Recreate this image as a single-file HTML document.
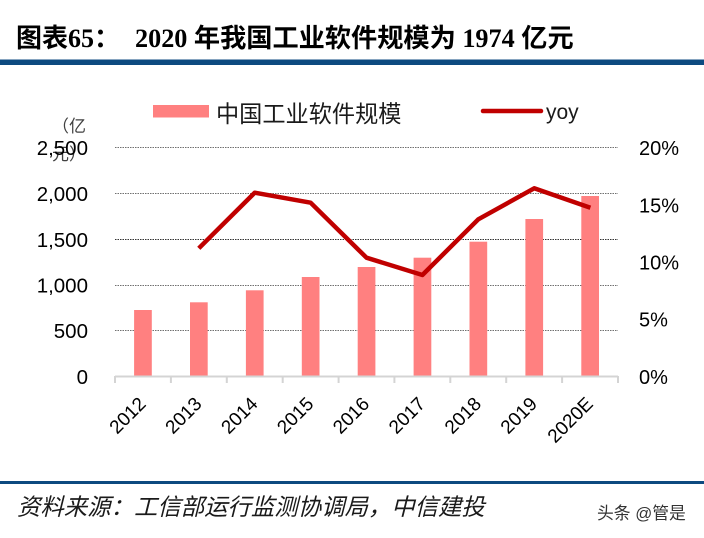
<!DOCTYPE html>
<html><head><meta charset="utf-8"><style>
html,body{margin:0;padding:0;background:#fff;}
svg{display:block;}
</style></head><body>
<svg width="704" height="538" viewBox="0 0 704 538" xmlns="http://www.w3.org/2000/svg">
<rect width="704" height="538" fill="#fff"/>
<!-- Title -->
<text x="16" y="47" font-family="'Liberation Serif','Noto Sans CJK SC',serif" font-weight="bold" font-size="26" fill="#000">图表65：</text>
<text x="135" y="47" font-family="'Liberation Serif','Noto Sans CJK SC',serif" font-weight="bold" font-size="26.2" fill="#000">2020 年我国工业软件规模为 1974 亿元</text>
<rect x="0" y="59.5" width="704" height="5.5" fill="#0d4a80"/>

<!-- Legend -->
<rect x="153" y="105" width="56" height="12.5" fill="#ff8080"/>
<text x="216" y="122" font-family="'Liberation Sans','Noto Sans CJK SC',sans-serif" font-size="23.2" fill="#1a1a1a">中国工业软件规模</text>
<line x1="483" y1="111" x2="541" y2="111" stroke="#c00000" stroke-width="4.5" stroke-linecap="round"/>
<text x="546" y="119" font-family="'Liberation Sans',sans-serif" font-size="21" fill="#1a1a1a">yoy</text>

<!-- unit label -->
<text x="52" y="132" font-family="'Liberation Sans','Noto Sans CJK SC',sans-serif" font-size="17" fill="#404040">（亿</text>
<text x="52" y="160" font-family="'Liberation Sans','Noto Sans CJK SC',sans-serif" font-size="17" fill="#404040">元）</text>

<!-- Gridlines -->
<g stroke="#707070" stroke-width="1" stroke-dasharray="1.5 1">
<line x1="115" y1="147.5" x2="618" y2="147.5"/>
<line x1="115" y1="193.5" x2="618" y2="193.5"/>
<line x1="115" y1="239.5" x2="618" y2="239.5" stroke="#333"/>
<line x1="115" y1="285.5" x2="618" y2="285.5"/>
<line x1="115" y1="330.5" x2="618" y2="330.5"/>
</g>

<!-- Left axis labels -->
<g font-family="'Liberation Sans',sans-serif" font-size="20.5" fill="#000" text-anchor="end">
<text x="88" y="155">2,500</text>
<text x="88" y="201">2,000</text>
<text x="88" y="247">1,500</text>
<text x="88" y="292.5">1,000</text>
<text x="88" y="338">500</text>
<text x="88" y="384">0</text>
</g>
<!-- Right axis labels -->
<g font-family="'Liberation Sans',sans-serif" font-size="20" fill="#000">
<text x="639" y="155">20%</text>
<text x="639" y="212.5">15%</text>
<text x="639" y="269.5">10%</text>
<text x="639" y="326.5">5%</text>
<text x="639" y="384">0%</text>
</g>

<!-- Bars -->
<g fill="#ff8080">
<rect x="134.1" y="310" width="17.7" height="66"/>
<rect x="190.0" y="302.3" width="17.7" height="73.7"/>
<rect x="245.9" y="290.3" width="17.7" height="85.7"/>
<rect x="301.8" y="277" width="17.7" height="99"/>
<rect x="357.7" y="267" width="17.7" height="109"/>
<rect x="413.6" y="257.7" width="17.7" height="118.3"/>
<rect x="469.5" y="241.7" width="17.7" height="134.3"/>
<rect x="525.4" y="219" width="17.7" height="157"/>
<rect x="581.3" y="196" width="17.7" height="180"/>
</g>

<!-- X axis -->
<line x1="115" y1="376.5" x2="618" y2="376.5" stroke="#d4d4d4" stroke-width="2"/>
<g stroke="#d4d4d4" stroke-width="2">
<line x1="115" y1="376" x2="115" y2="383"/>
<line x1="170.9" y1="376" x2="170.9" y2="383"/>
<line x1="226.8" y1="376" x2="226.8" y2="383"/>
<line x1="282.7" y1="376" x2="282.7" y2="383"/>
<line x1="338.6" y1="376" x2="338.6" y2="383"/>
<line x1="394.4" y1="376" x2="394.4" y2="383"/>
<line x1="450.3" y1="376" x2="450.3" y2="383"/>
<line x1="506.2" y1="376" x2="506.2" y2="383"/>
<line x1="562.1" y1="376" x2="562.1" y2="383"/>
<line x1="618" y1="376" x2="618" y2="383"/>
</g>

<!-- Line series -->
<polyline points="198.8,248.3 254.7,192.7 310.6,202.7 366.5,257.7 422.4,275 478.3,219.3 534.2,188.3 590.4,207.7" fill="none" stroke="#c00000" stroke-width="4.5" stroke-linejoin="round" stroke-linecap="butt"/>

<!-- X labels -->
<g font-family="'Liberation Sans',sans-serif" font-size="19" fill="#000" text-anchor="end">
<text transform="translate(147,405) rotate(-45)">2012</text>
<text transform="translate(202.9,405) rotate(-45)">2013</text>
<text transform="translate(258.8,405) rotate(-45)">2014</text>
<text transform="translate(314.7,405) rotate(-45)">2015</text>
<text transform="translate(370.5,405) rotate(-45)">2016</text>
<text transform="translate(426.4,405) rotate(-45)">2017</text>
<text transform="translate(482.3,405) rotate(-45)">2018</text>
<text transform="translate(538.2,405) rotate(-45)">2019</text>
<text transform="translate(594.1,405) rotate(-45)">2020E</text>
</g>

<!-- Footer -->
<rect x="0" y="481" width="704" height="3" fill="#0d4a80"/>
<text x="17" y="515" font-family="'Liberation Sans','Noto Sans CJK SC',sans-serif" font-size="23.4" font-style="italic" fill="#1a1a1a">资料来源：工信部运行监测协调局，中信建投</text>
<text x="597" y="519" font-family="'Liberation Sans','Noto Sans CJK SC',sans-serif" font-size="16.8" fill="#333">头条 @管是</text>
</svg>
</body></html>
